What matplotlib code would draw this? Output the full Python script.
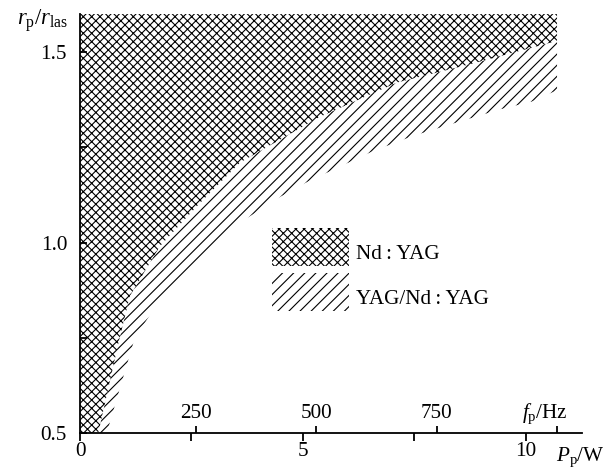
import numpy as np
import matplotlib
matplotlib.use("Agg")
import matplotlib.pyplot as plt

# ---------------- data ----------------
# Boundary of the Nd:YAG (cross-hatched) region: pump power P_p [W] vs r_p/r_las
nd_P = [0.41, 0.87, 1.12, 1.79, 2.66, 3.59, 5.38, 7.11, 8.81, 10.53, 10.70, 10.70]
nd_r = [0.50, 0.74, 0.86, 0.99, 1.10, 1.21, 1.33, 1.42, 1.47, 1.524, 1.53, 1.60]

# Lower boundary of the YAG/Nd:YAG (single-hatched) region
comp_P = [0.60, 1.23, 1.74, 2.66, 3.69, 4.49, 5.11, 6.57, 7.47, 8.30, 9.43, 10.13, 10.70]
comp_r = [0.50, 0.75, 0.84, 0.94, 1.06, 1.12, 1.16, 1.24, 1.28, 1.31, 1.35, 1.37, 1.40]

# Bottom (power) axis
p_ticks = [0, 2.5, 5, 7.5, 10]
p_labels = ["0", "", "5", "", "10"]
# Upper (frequency) scale drawn on the same line: tick positions in W
f_tick_P = [2.60, 5.30, 8.00, 10.71]
f_labels = ["250", "500", "750", ""]
# Left axis
r_ticks = [0.5, 0.75, 1.0, 1.25, 1.5]
r_labels = ["0.5", "", "1.0", "", "1.5"]

legend_labels = ["Nd\u2009:\u2009YAG", "YAG/Nd\u2009:\u2009YAG"]

# ---------------- style ----------------
DPI = 200
W, H = 613, 470
plt.rcParams["font.family"] = ["Liberation Serif", "DejaVu Serif"]
plt.rcParams["mathtext.fontset"] = "custom"
plt.rcParams["mathtext.rm"] = "Liberation Serif"
plt.rcParams["mathtext.it"] = "Liberation Serif:italic"
plt.rcParams["mathtext.bf"] = "Liberation Serif:bold"
plt.rcParams["hatch.linewidth"] = 0.4
FS = 7.6
LW = 0.65
px = 72.0 / DPI  # one pixel in points

fig = plt.figure(figsize=(W / DPI, H / DPI), dpi=DPI)
ax = fig.add_axes([80 / W, 1 - 433 / H, (582 - 80) / W, (433 - 14) / H])
ax.set_xlim(0, 11.26)
ax.set_ylim(0.5, 1.6)

# regions
nd_fill = ax.fill_betweenx(nd_r, 0, nd_P, facecolor="none", edgecolor="black",
                           linewidth=0, hatch="xxxxxxxx", label=legend_labels[0])
poly_P = np.r_[comp_P, nd_P[-2::-1]]
poly_r = np.r_[comp_r, nd_r[-2::-1]]
comp_fill = ax.fill(poly_P, poly_r, facecolor="none", edgecolor="black",
                    linewidth=0, hatch="//////", label=legend_labels[1])[0]

# spines
for s in ["top", "right"]:
    ax.spines[s].set_visible(False)
for s in ["left", "bottom"]:
    ax.spines[s].set_linewidth(LW)

ax.set_xticks(p_ticks, labels=p_labels)
ax.tick_params(axis="x", direction="out", length=8 * px, width=LW,
               pad=1 * px, labelsize=FS)
ax.set_yticks(r_ticks, labels=r_labels)
ax.tick_params(axis="y", direction="in", length=7 * px, width=LW,
               pad=13 * px, labelsize=FS)

# frequency scale on the bottom line, ticks upward
sec = ax.secondary_xaxis(0.0)
sec.set_xticks(f_tick_P, labels=f_labels)
sec.xaxis.set_ticks_position("top")
sec.xaxis.set_label_position("top")
sec.tick_params(axis="x", direction="out", length=7 * px, width=LW,
                pad=3 * px, labelsize=FS)
for s in sec.spines.values():
    s.set_visible(False)

# axis titles
ax.annotate(r"$f_{\mathrm{p}}/\mathrm{Hz}$", xy=(10.43, 0), xycoords=("data", "axes fraction"),
            xytext=(0, 15), textcoords="offset pixels", ha="center", va="baseline",
            fontsize=FS)
ax.annotate(r"$P_{\mathrm{p}}/\mathrm{W}$", xy=(11.23, 0), xycoords=("data", "axes fraction"),
            xytext=(0, -28), textcoords="offset pixels", ha="center", va="baseline",
            fontsize=FS, annotation_clip=False)
ax.annotate(r"$r_{\mathrm{p}}/r_{\mathrm{las}}$", xy=(0, 1), xycoords="axes fraction",
            xytext=(-12, -11), textcoords="offset pixels", ha="right", va="baseline",
            fontsize=FS * 1.07, annotation_clip=False)

# legend (hatched boxes ~77 x 38 px)
fs_px = FS / px
hh = 2.39
leg = ax.legend(handles=[nd_fill, comp_fill], labels=legend_labels,
                loc="upper left", bbox_to_anchor=(272 / W, 1 - 228 / H),
                bbox_transform=fig.transFigure, frameon=False, fontsize=FS,
                borderpad=0, borderaxespad=0,
                handlelength=77 / fs_px, handleheight=hh,
                labelspacing=7 / fs_px, handletextpad=7 / fs_px)
for t in leg.get_texts():
    t.set_y(-5.5)

fig.savefig("out.png", dpi=DPI)
